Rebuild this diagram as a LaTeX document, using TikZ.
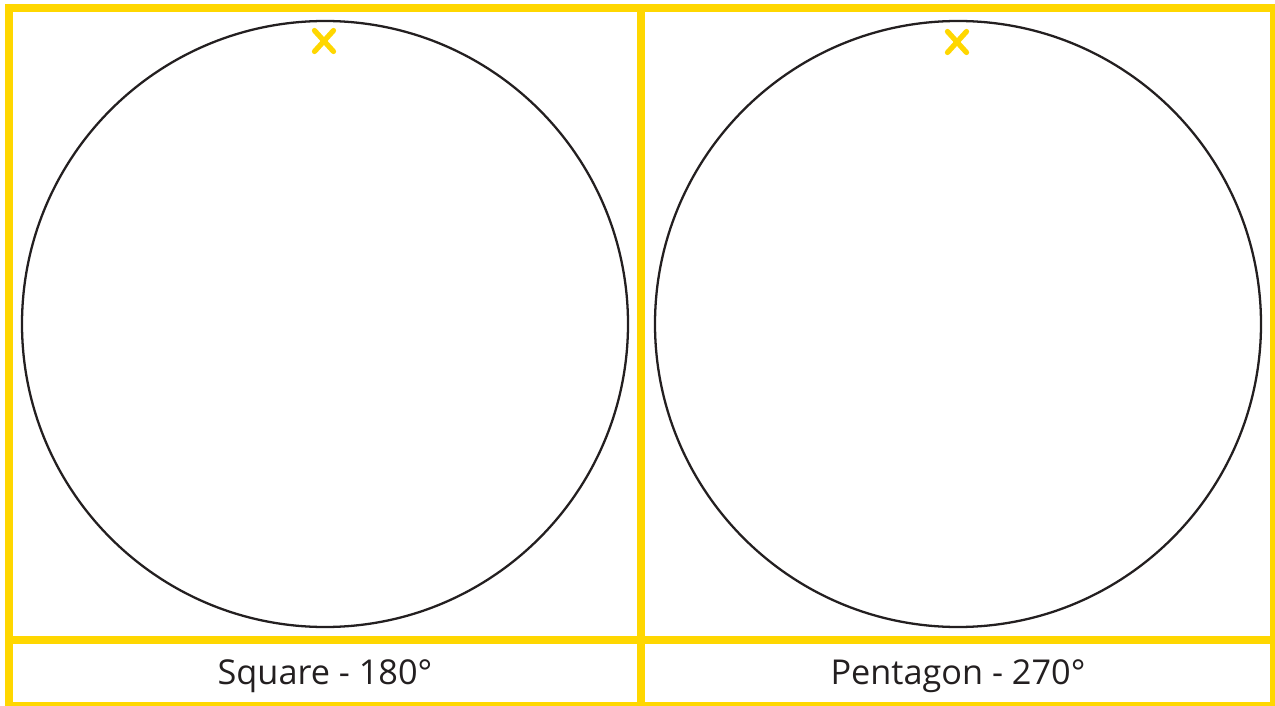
\documentclass[tikz,border=0pt]{standalone}
\usepackage{fontspec}
\setmainfont{Open Sans}
\usetikzlibrary{positioning}
\definecolor{gold}{HTML}{FFD700}
\definecolor{ink}{HTML}{231F20}
\tikzset{
  frame/.style={draw=gold, line width=4.6pt},
  dial/.style={draw=ink, line width=1.3pt},
  xmark/.style={draw=gold, line width=3pt, line cap=round},
  caption/.style={font=\fontsize{19.5}{24}\selectfont, text=ink, anchor=center},
}
\begin{document}
\begin{tikzpicture}[x=0.02cm, y=-0.02cm]
  \useasboundingbox (0,0) rectangle (1275,706);

  % outer frame and dividers
  \draw[frame] (9,8) rectangle (1274,706);
  \draw[frame] (641,8) -- (641,706);
  \draw[frame] (9,640) -- (1274,640);

  % the two dials
  \draw[dial] (325,324) circle (303);
  \draw[dial] (958,324) circle (303);

  % start marks at the top of each dial
  \coordinate (startL) at (324,41);
  \coordinate (startR) at (957,42);
  \foreach \c in {startL,startR}{
    \draw[xmark] ([xshift=-0.19cm, yshift=0.21cm]\c) -- ([xshift=0.19cm, yshift=-0.21cm]\c);
    \draw[xmark] ([xshift=-0.19cm, yshift=-0.21cm]\c) -- ([xshift=0.19cm, yshift=0.21cm]\c);
  }

  % captions
  \node[caption] (capL) at (325,676) {Square - 180°};
  \node[caption] (capR) at (958,676) {Pentagon - 270°};
\end{tikzpicture}
\end{document}
